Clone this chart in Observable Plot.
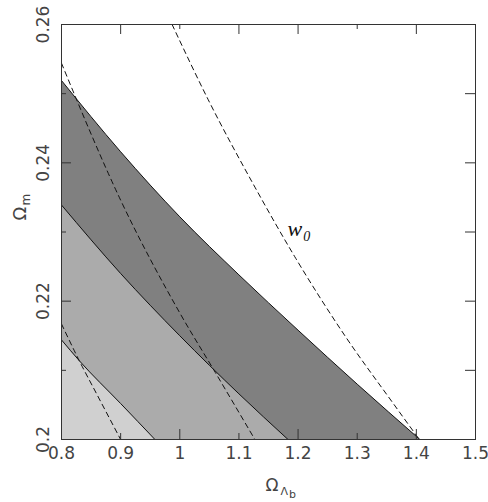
<!DOCTYPE html>
<html><head><meta charset="utf-8">
<script src="https://cdn.jsdelivr.net/npm/d3@7"></script>
<script src="https://cdn.jsdelivr.net/npm/@observablehq/plot@0.6"></script>
<style>html,body{margin:0;padding:0;background:#fff;}</style>
</head><body><div id="chart"></div>
<script>
// ---- data ----
const darkUpperX = [0.8, 0.9, 1.0, 1.1, 1.2, 1.3, 1.406];
const darkUpperY = [0.2519, 0.2416, 0.2322, 0.2238, 0.2158, 0.2080, 0.2];
const midUpperX = [0.8, 0.9, 1.0, 1.1, 1.183];
const midUpperY = [0.2339, 0.2240, 0.2150, 0.2066, 0.2];
const lightUpperX = [0.8, 0.83, 0.9, 0.958];
const lightUpperY = [0.2144, 0.2114, 0.2052, 0.2];
const dashLowX = [0.8, 0.83, 0.86, 0.9];
const dashLowY = [0.2167, 0.2114, 0.2065, 0.2];
const dashMidX = [0.8, 0.9, 1.0, 1.06, 1.127];
const dashMidY = [0.2544, 0.2346, 0.2183, 0.2097, 0.2];
const dashW0X = [0.987, 1.05, 1.125, 1.196, 1.28, 1.361, 1.405];
const dashW0Y = [0.26, 0.2488, 0.2368, 0.2262, 0.2149, 0.2052, 0.2];

const xTicks = [0.8, 0.9, 1.0, 1.1, 1.2, 1.3, 1.4, 1.5];
const xTickLabels = ["0.8", "0.9", "1", "1.1", "1.2", "1.3", "1.4", "1.5"];
const yTicks = [0.2, 0.22, 0.24, 0.26];
const yTickLabels = ["0.2", "0.22", "0.24", "0.26"];
const yMinorTicks = [0.21, 0.23, 0.25];
const yInnerTicks = [0.21, 0.22, 0.23, 0.24, 0.25];
const bottomLong = [1.0, 1.2, 1.4], bottomShort = [0.9, 1.1, 1.3];
const topLong = [0.9, 1.1, 1.2, 1.4], topShort = [1.0, 1.3];
const leftLong = [0.22, 0.24];

const xLabelParts = ["Ω", "Λ", "b"];
const yLabelParts = ["Ω", "m"];
const curveLabel = {x: 1.182, y: 0.2294, text: "w", sub: "0", subX: 1.2088, subY: 0.2287};

// ---- build ----
const pts = (xs, ys) => xs.map((x, i) => ({x, y: ys[i]}));
const dark = pts(darkUpperX, darkUpperY);
const mid = pts(midUpperX, midUpperY);
const light = pts(lightUpperX, lightUpperY);
const dLow = pts(dashLowX, dashLowY);
const dMid = pts(dashMidX, dashMidY);
const dW0 = pts(dashW0X, dashW0Y);
const yMin = yTicks[0], yMax = yTicks[yTicks.length - 1];

const W = 488, H = 502, mL = 61, mR = 13, mT = 24, mB = 63;
const fh = H - mT - mB, fw = W - mL - mR;
const sans = "DejaVu Sans";
const ink = "#111", tickInk = "#333", labInk = "#444";
const curve = "monotone-x";

const chart = Plot.plot({
  width: W, height: H,
  marginLeft: mL, marginRight: mR, marginTop: mT, marginBottom: mB,
  x: {domain: [xTicks[0], xTicks[xTicks.length - 1]], axis: null},
  y: {domain: [yMin, yMax], axis: null},
  style: {fontFamily: sans, background: "#fff"},
  marks: [
    Plot.areaY(dark, {x: "x", y1: () => yMin, y2: "y", fill: "#808080", curve, clip: true}),
    Plot.areaY(mid, {x: "x", y1: () => yMin, y2: "y", fill: "#ababab", curve, clip: true}),
    Plot.areaY(light, {x: "x", y1: () => yMin, y2: "y", fill: "#d0d0d0", curve, clip: true}),
    Plot.line(dark, {x: "x", y: "y", stroke: ink, strokeWidth: 1, curve, clip: true}),
    Plot.line(mid, {x: "x", y: "y", stroke: ink, strokeWidth: 1, curve, clip: true}),
    Plot.line(light, {x: "x", y: "y", stroke: ink, strokeWidth: 1, curve, clip: true}),
    Plot.line(dLow, {x: "x", y: "y", stroke: ink, strokeWidth: 1, strokeDasharray: "5,4", curve, clip: true}),
    Plot.line(dMid, {x: "x", y: "y", stroke: ink, strokeWidth: 1, strokeDasharray: "5,4", curve, clip: true}),
    Plot.line(dW0, {x: "x", y: "y", stroke: ink, strokeWidth: 1, strokeDasharray: "5,4", curve, clip: true}),
    // ticks (inward)
    Plot.tickX(bottomLong, {x: d => d, insetTop: fh - 10, stroke: tickInk}),
    Plot.tickX(bottomShort, {x: d => d, insetTop: fh - 6, stroke: tickInk}),
    Plot.tickX(topLong, {x: d => d, insetBottom: fh - 10, stroke: tickInk}),
    Plot.tickX(topShort, {x: d => d, insetBottom: fh - 5, stroke: tickInk}),
    Plot.tickY(leftLong, {y: d => d, insetRight: fw - 10, stroke: tickInk}),
    Plot.tickY(yMinorTicks, {y: d => d, insetRight: fw - 5, stroke: tickInk}),
    Plot.tickY(yInnerTicks, {y: d => d, insetLeft: fw - 10, stroke: tickInk}),
    Plot.frame({stroke: "#333", strokeWidth: 1}),
    // tick labels
    Plot.text(xTicks, {x: d => d, text: (d, i) => xTickLabels[i], frameAnchor: "bottom", dy: 14, textAnchor: "middle", lineAnchor: "middle", fontSize: 17, fill: labInk}),
    Plot.text(yTicks, {y: d => d, text: (d, i) => yTickLabels[i], frameAnchor: "left", dx: -18, rotate: -90, textAnchor: "middle", lineAnchor: "middle", fontSize: 17, fill: labInk}),
    // axis titles
    Plot.text([xLabelParts[0]], {text: d => d, frameAnchor: "bottom", dx: 3.5, dy: 51, textAnchor: "middle", lineAnchor: "bottom", fontSize: 17, fill: labInk}),
    Plot.text([xLabelParts[1]], {text: d => d, frameAnchor: "bottom", dx: 12, dy: 55, textAnchor: "start", lineAnchor: "bottom", fontSize: 11, fill: labInk}),
    Plot.text([xLabelParts[2]], {text: d => d, frameAnchor: "bottom", dx: 20.5, dy: 58, textAnchor: "start", lineAnchor: "bottom", fontSize: 11, fill: labInk}),
    Plot.text([yLabelParts[0]], {text: d => d, frameAnchor: "left", dx: -36, dy: -11.5, rotate: -90, textAnchor: "start", lineAnchor: "bottom", fontSize: 18, fill: labInk}),
    Plot.text([yLabelParts[1]], {text: d => d, frameAnchor: "left", dx: -32, dy: -26.5, rotate: -90, textAnchor: "start", lineAnchor: "bottom", fontSize: 12, fill: labInk}),
    // curve label
    Plot.text([curveLabel], {x: "x", y: "y", text: "text", textAnchor: "start", lineAnchor: "bottom", fontSize: 22, fontStyle: "italic", fontFamily: "Liberation Serif", fill: ink}),
    Plot.text([curveLabel], {x: "subX", y: "subY", text: "sub", textAnchor: "start", lineAnchor: "bottom", fontSize: 14, fontStyle: "italic", fontFamily: "Liberation Serif", fill: ink})
  ]
});
document.getElementById("chart").appendChild(chart);
</script>
</body></html>
